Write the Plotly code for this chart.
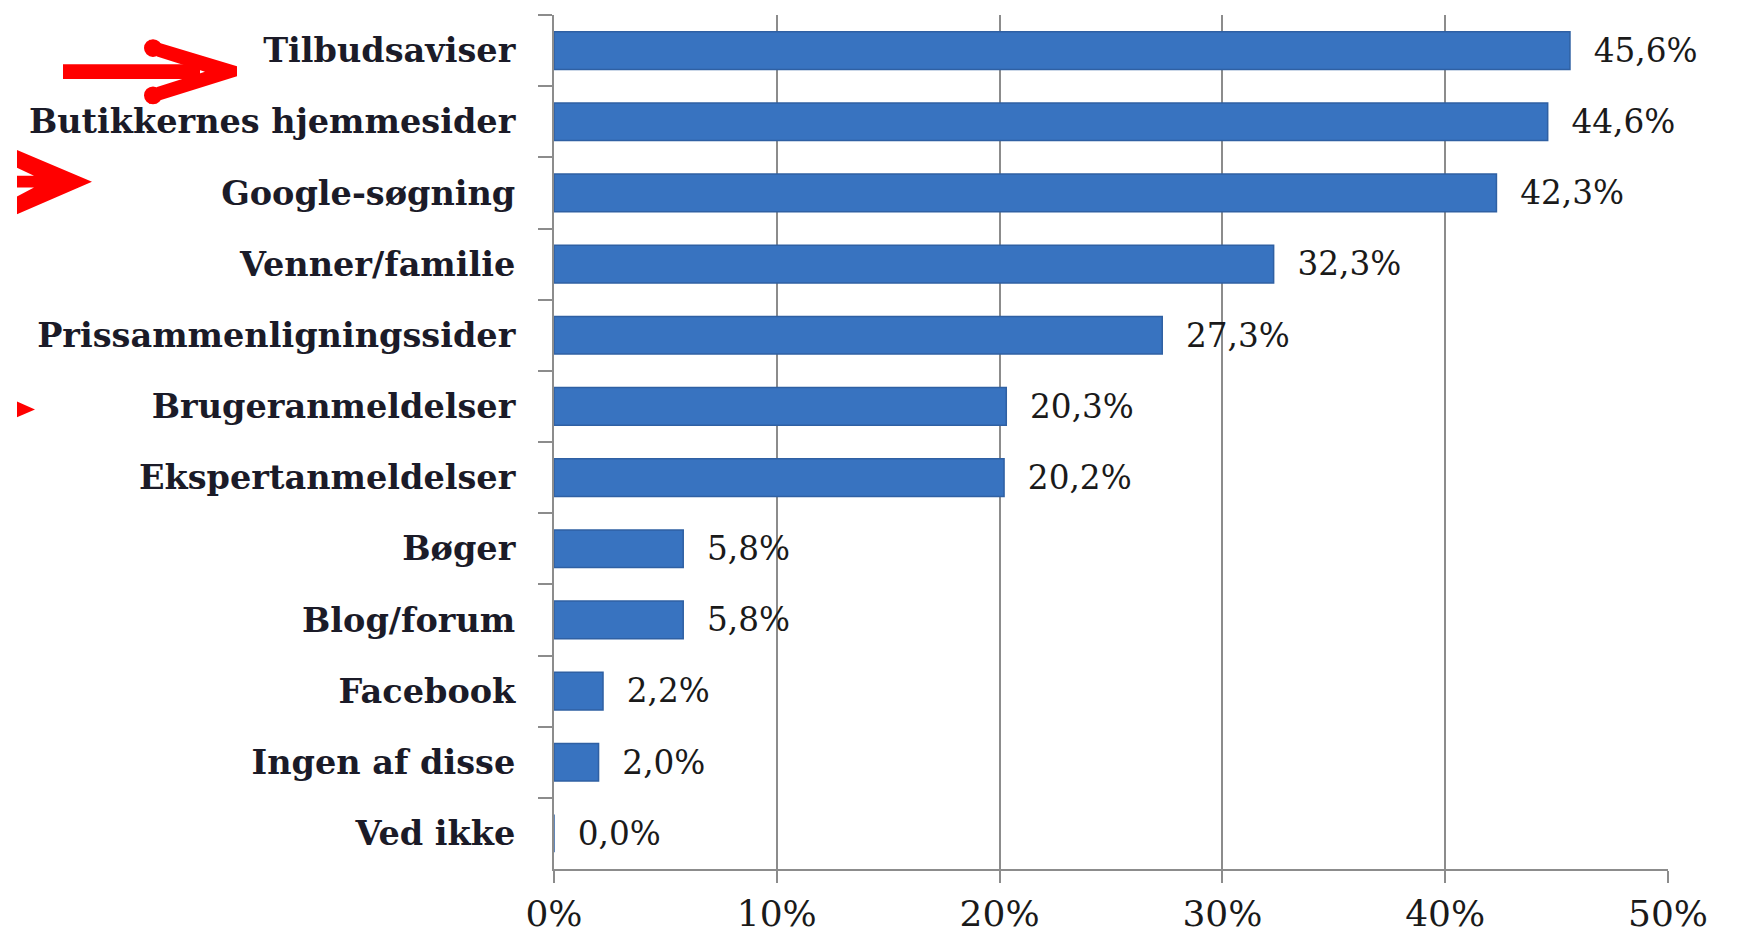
import plotly.graph_objects as go

categories = ["Tilbudsaviser", "Butikkernes hjemmesider", "Google-søgning", "Venner/familie",
              "Prissammenligningssider", "Brugeranmeldelser", "Ekspertanmeldelser", "Bøger",
              "Blog/forum", "Facebook", "Ingen af disse", "Ved ikke"]
values = [45.6, 44.6, 42.3, 32.3, 27.3, 20.3, 20.2, 5.8, 5.8, 2.2, 2.0, 0.0]
tick_vals = [0, 10, 20, 30, 40, 50]
tick_text = ["0%", "10%", "20%", "30%", "40%", "50%"]

labels = ["\u00a0\u00a0" + f"{v:.1f}".replace(".", ",") + "%" for v in values]

W, H = 1737, 946
L, R, T, B = 554, 69, 15, 65
PW, PH = W - L - R, H - T - B


def pp(x, y):
    return f"{(x - L) / PW:.5f},{(H - B - y) / PH:.5f}"


def poly(points):
    return "M" + " L".join(pp(x, y) for x, y in points) + " Z"


def circle(cx, cy, r):
    return dict(type="circle", xref="paper", yref="paper",
                x0=(cx - r - L) / PW, x1=(cx + r - L) / PW,
                y0=(H - B - cy - r) / PH, y1=(H - B - cy + r) / PH,
                fillcolor="#ff0000", line=dict(width=0))


fig = go.Figure(go.Bar(
    x=values, y=categories, orientation="h",
    marker=dict(color="#3873c0", line=dict(color="#2f60a3", width=1.5)),
    text=labels, textposition="outside", cliponaxis=False,
    textfont=dict(family="DejaVu Serif", size=39, color="#1a1a1a"),
    width=0.53,
))

red = "#ff0000"
shapes = [
    # arrow 1 (shaft + chevron head)
    dict(type="path", xref="paper", yref="paper",
         path=poly([(63, 65), (200, 65), (200, 80), (63, 80)]),
         fillcolor=red, line=dict(width=0)),
    dict(type="path", xref="paper", yref="paper",
         path=poly([(149, 40), (237, 67), (237, 77), (149, 105), (157, 88), (205, 72.5), (157, 57)]),
         fillcolor=red, line=dict(width=0)),
    circle(153, 48.5, 9),
    circle(153, 96.5, 9),
    # arrow 2 (head cut at the left edge)
    dict(type="path", xref="paper", yref="paper",
         path=poly([(17, 152), (92, 184), (17, 217), (17, 199), (34, 190), (17, 190),
                    (17, 178), (34, 178), (17, 170)]),
         fillcolor=red, line=dict(width=0)),
    # arrow 3 (small triangle)
    dict(type="path", xref="paper", yref="paper",
         path=poly([(17, 407), (35, 415), (17, 423)]),
         fillcolor=red, line=dict(width=0)),
]

fig.update_layout(
    width=W, height=H,
    margin=dict(l=L, r=R, t=T, b=B, pad=0),
    paper_bgcolor="white", plot_bgcolor="white",
    showlegend=False,
    shapes=shapes,
    xaxis=dict(
        range=[0, 50], tickvals=tick_vals, ticktext=tick_text,
        showgrid=True, gridcolor="#8c8c8c", gridwidth=2,
        showline=True, linecolor="#8c8c8c", linewidth=2,
        ticks="outside", ticklen=12, tickwidth=2, tickcolor="#8c8c8c",
        tickfont=dict(family="DejaVu Serif", size=36, color="#1a1a1a"),
        ticklabelstandoff=0, zeroline=False, fixedrange=True,
    ),
    yaxis=dict(
        autorange="reversed",
        showline=True, linecolor="#8c8c8c", linewidth=2,
        ticks="outside", tickson="boundaries", ticklen=14, tickwidth=2, tickcolor="#8c8c8c",
        tickfont=dict(family="DejaVu Serif", size=33.5, color="#1b1b28", weight="bold"),
        ticklabelstandoff=30, showgrid=False, fixedrange=True,
    ),
)

fig.write_html(
    "out.html",
    config={"displayModeBar": False},
    post_script="document.body.style.margin='0';document.body.style.overflow='hidden';",
)
